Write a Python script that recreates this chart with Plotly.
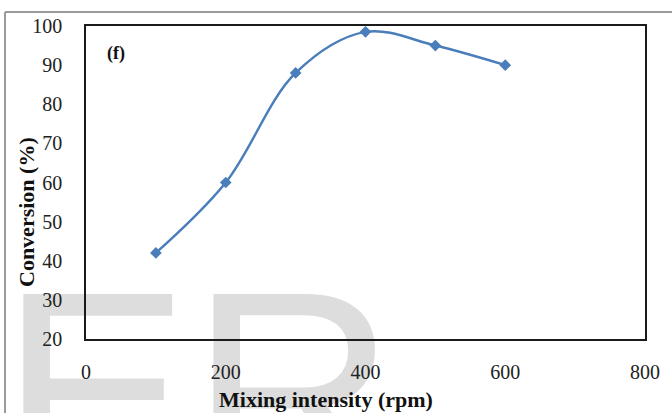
import plotly.graph_objects as go

# Mixing intensity (rpm) vs conversion (%)
mixing_rpm = [100, 200, 300, 400, 500, 600]
conversion_pct = [42, 60, 88, 98.5, 95, 90]

x_ticks = [0, 200, 400, 600, 800]
y_ticks = [20, 30, 40, 50, 60, 70, 80, 90, 100]

W, H = 672, 413
L, R, T, B = 86, 27, 26, 74
PW, PH = W - L - R, H - T - B


def px(x):
    return (x - L) / PW


def py(y):
    return (H - B - y) / PH


serif = "Liberation Serif"
blue = "#4a7ebb"

fig = go.Figure()
fig.add_trace(go.Scatter(
    x=mixing_rpm, y=conversion_pct,
    mode="lines+markers",
    line=dict(color=blue, width=2.5, shape="spline", smoothing=1),
    marker=dict(symbol="diamond", size=9, color=blue),
    showlegend=False,
))

axis_common = dict(
    showgrid=False, zeroline=False,
    showline=True, mirror=True, linecolor="#1a1a1a", linewidth=1.5,
    ticks="outside", ticklen=0, tickcolor="rgba(0,0,0,0)",
    tickfont=dict(family=serif, size=20, color="#222"),
)

fig.update_xaxes(range=[0, 800], tickvals=x_ticks, ticklabelstandoff=14, **axis_common)
fig.update_yaxes(range=[20, 100], tickvals=y_ticks, ticklabelstandoff=18, **axis_common)

shapes = [
    # watermark lettering behind the chart
    dict(type="rect", xref="paper", yref="paper",
         x0=px(-3), x1=px(420), y0=py(700), y1=py(205),
         line=dict(width=0), fillcolor="rgba(0,0,0,0)", layer="below",
         label=dict(text="ER", textposition="top left", padding=0,
                    font=dict(family="Liberation Sans", size=285, color="#dddddd"))),
    # outer chart frame
    dict(type="line", xref="paper", yref="paper",
         x0=px(5), x1=px(5), y0=py(413), y1=py(12),
         line=dict(color="#9a9a9a", width=2)),
    dict(type="line", xref="paper", yref="paper",
         x0=px(5), x1=px(672), y0=py(12), y1=py(12),
         line=dict(color="#9a9a9a", width=2)),
]

annotations = [
    dict(text="<b>(f)</b>", x=px(115.5), y=py(53), xref="paper", yref="paper",
         showarrow=False, xanchor="center", yanchor="middle",
         font=dict(family=serif, size=18, color="#111")),
    dict(text="<b>Conversion (%)</b>", x=px(27), y=py(212), xref="paper", yref="paper",
         showarrow=False, textangle=-90, xanchor="center", yanchor="middle",
         font=dict(family=serif, size=22, color="#111")),
    dict(text="<b>Mixing intensity (rpm)</b>", x=px(326), y=py(399), xref="paper", yref="paper",
         showarrow=False, xanchor="center", yanchor="middle",
         font=dict(family=serif, size=22, color="#111")),
]

fig.update_layout(
    width=W, height=H,
    margin=dict(l=L, r=R, t=T, b=B),
    paper_bgcolor="white", plot_bgcolor="rgba(0,0,0,0)",
    shapes=shapes, annotations=annotations,
)

fig.write_html("out.html")
